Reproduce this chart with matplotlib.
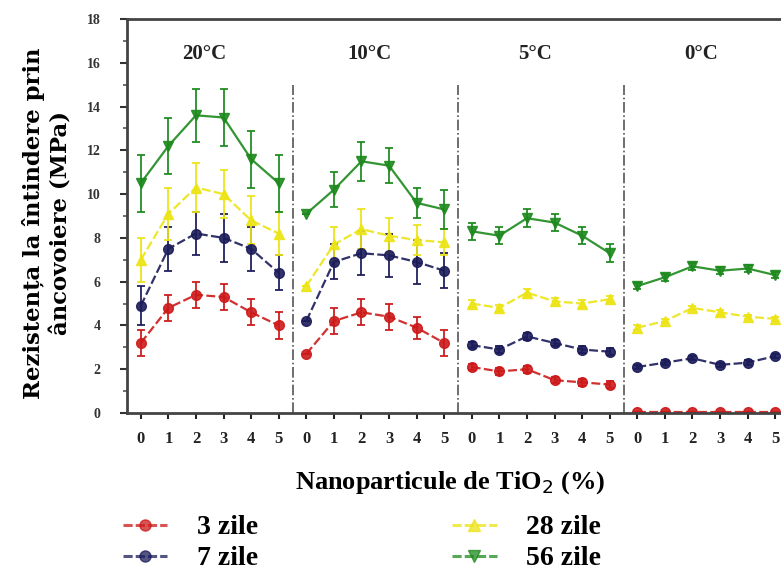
import numpy as np
import matplotlib.pyplot as plt

# date (4 temperaturi x 6 procente TiO2)
temperaturi = ['20°C', '10°C', '5°C', '0°C']
procente = [0, 1, 2, 3, 4, 5]

zile3 = [3.2, 4.8, 5.4, 5.3, 4.6, 4.0,
         2.7, 4.2, 4.6, 4.4, 3.9, 3.2,
         2.1, 1.9, 2.0, 1.5, 1.4, 1.3,
         0.05, 0.05, 0.05, 0.05, 0.05, 0.05]
zile7 = [4.9, 7.5, 8.2, 8.0, 7.5, 6.4,
         4.2, 6.9, 7.3, 7.2, 6.9, 6.5,
         3.1, 2.9, 3.5, 3.2, 2.9, 2.8,
         2.1, 2.3, 2.5, 2.2, 2.3, 2.6]
zile28 = [7.0, 9.1, 10.3, 10.0, 8.8, 8.2,
          5.8, 7.7, 8.4, 8.1, 7.9, 7.8,
          5.0, 4.8, 5.5, 5.1, 5.0, 5.2,
          3.9, 4.2, 4.8, 4.6, 4.4, 4.3]
zile56 = [10.5, 12.2, 13.6, 13.5, 11.6, 10.5,
          9.1, 10.2, 11.5, 11.3, 9.6, 9.3,
          8.3, 8.1, 8.9, 8.7, 8.1, 7.3,
          5.8, 6.2, 6.7, 6.5, 6.6, 6.3]

err3 = [0.6, 0.6, 0.6, 0.6, 0.6, 0.6,
        0.0, 0.6, 0.6, 0.6, 0.5, 0.6,
        0.15, 0.15, 0.15, 0.15, 0.15, 0.15,
        0.0, 0.0, 0.0, 0.0, 0.0, 0.0]
err7 = [0.9, 1.0, 1.0, 1.1, 1.0, 0.8,
        0.0, 0.8, 1.0, 1.0, 1.0, 0.8,
        0.15, 0.15, 0.15, 0.15, 0.15, 0.15,
        0.1, 0.1, 0.1, 0.1, 0.1, 0.1]
err28 = [1.0, 1.2, 1.1, 1.1, 1.1, 1.0,
         0.0, 0.8, 0.9, 0.8, 0.7, 0.6,
         0.15, 0.15, 0.15, 0.15, 0.15, 0.15,
         0.1, 0.1, 0.1, 0.1, 0.1, 0.1]
err56 = [1.3, 1.3, 1.2, 1.3, 1.3, 1.3,
         0.0, 0.8, 0.9, 0.8, 0.7, 0.9,
         0.4, 0.4, 0.4, 0.4, 0.4, 0.4,
         0.15, 0.15, 0.15, 0.15, 0.15, 0.15]

serii = [
    ('3 zile', zile3, err3, '#cc1a1a', 'o', (0, (4, 1.5))),
    ('7 zile', zile7, err7, '#1c1c5a', 'o', (0, (4, 1.5))),
    ('28 zile', zile28, err28, '#ece414', '^', (0, (4, 1.5))),
    ('56 zile', zile56, err56, '#1e8a1e', 'v', '-'),
]

plt.rcParams['font.family'] = ['Liberation Serif', 'DejaVu Serif']

fig = plt.figure(figsize=(7.81, 5.73), dpi=100)
ax = fig.add_axes([127 / 781, 160 / 573, 662 / 781, 394 / 573])

n = len(procente)
x_tot = np.arange(len(temperaturi) * n)

handles = []
for nume, val, err, cul, mk, ls in serii:
    for g in range(len(temperaturi)):
        sl = slice(g * n, (g + 1) * n)
        ax.errorbar(x_tot[sl], np.array(val)[sl], yerr=np.array(err)[sl],
                    color=cul, ecolor=cul, elinewidth=1.4, capsize=3, capthick=1.4,
                    linestyle=ls, linewidth=1.6, marker=mk, markersize=7, alpha=0.9)
    h, = plt.plot([], [], color=cul, linestyle=(0, (3, 1)), linewidth=2.2, marker=mk,
                  markersize=8, markerfacecolor=cul, markeredgecolor=cul, alpha=0.75)
    handles.append(h)

# separatoare intre temperaturi
for g in range(1, len(temperaturi)):
    ax.vlines(g * n - 0.5, 0, 15, colors='#555555', linestyles='-.', linewidth=1.2)

for g, t in enumerate(temperaturi):
    ax.text(g * n + 2.3, 16.4, t, ha='center', va='center', fontsize=15,
            fontweight='bold', color='#222222')

ax.set_xlim(-0.5, 23.5)
ax.set_ylim(0, 18)
ax.set_xticks(x_tot)
ax.set_xticklabels([str(p) for p in procente] * len(temperaturi),
                   fontsize=12, fontweight='bold')
ax.set_yticks(np.arange(0, 19, 2))
ax.set_yticklabels([str(v) for v in range(0, 19, 2)], fontsize=10, fontweight='bold',
                   color='#333333')
ax.set_yticks(np.arange(0, 19, 1), minor=True)
ax.tick_params(axis='x', direction='out', length=4, width=1.5, pad=9, colors='#222222')
ax.tick_params(axis='y', which='major', direction='out', length=5, width=1.5, pad=14,
               colors='#333333')
ax.tick_params(axis='y', which='minor', direction='out', length=3, width=1.2, colors='#555555')

for s in ['left', 'bottom', 'top']:
    ax.spines[s].set_linewidth(2)
    ax.spines[s].set_color('#444444')
ax.spines['right'].set_visible(False)

fig.text(450 / 781, 1 - 483 / 573, 'Nanoparticule de TiO$_2$ (%)', ha='center',
         va='center', fontsize=19, fontweight='bold')
fig.text(47 / 781, 1 - 223 / 573, 'Rezistența la întindere prin\nâncovoiere (MPa)',
         rotation=90, ha='center', va='center', fontsize=16.4, fontweight='bold',
         linespacing=1.3, family=['DejaVu Serif'])

fig.legend(handles, [s[0] for s in serii], ncol=2, loc='upper left',
           bbox_to_anchor=(123 / 781, 1 - 515 / 573), frameon=False,
           prop={'size': 20, 'weight': 'bold'}, borderpad=0, borderaxespad=0,
           handlelength=1.6, handletextpad=1.05, columnspacing=7.0, labelspacing=0.2)

plt.savefig('out.png', dpi=100)
